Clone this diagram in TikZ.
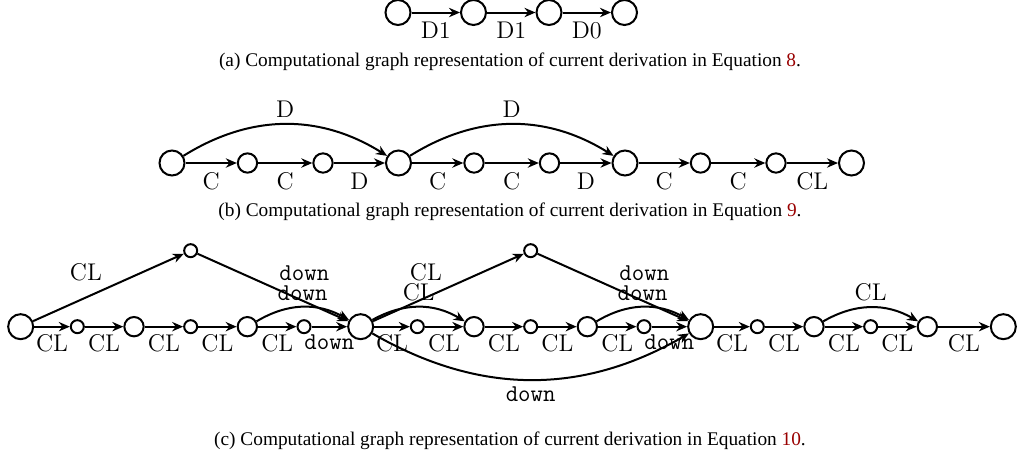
\documentclass[tikz,border=0pt]{standalone}
\usepackage{fontspec}
\usepackage{xcolor}
\usepackage{tikz}
\usetikzlibrary{arrows.meta, positioning}
\newfontfamily\capfont{Liberation Serif}
\definecolor{linkred}{RGB}{153,0,0}
\newcommand{\subcap}[2]{{\capfont (#1) Computational graph representation of current derivation in Equation \textcolor{linkred}{#2}.}}
\newcommand{\dn}{{\ttfamily down}}

\begin{document}
\begin{tikzpicture}[x=1pt, y=-1pt, on grid,
      big/.style={circle, draw, line width=1.2pt, minimum size=15pt, inner sep=0pt},
      mid/.style={circle, draw, line width=1.2pt, minimum size=11.6pt, inner sep=0pt},
      dot/.style={circle, draw, line width=1.2pt, minimum size=7.8pt, inner sep=0pt},
      lbl/.style={font=\fontsize{14.5}{16}\selectfont},
      captext/.style={font=\fontsize{11.6}{13}\selectfont, inner sep=0pt},
      ar/.style={-{Stealth[length=6.6pt, width=5.6pt]}, line width=1.2pt}]
    \useasboundingbox (0,0) rectangle (610.8,276.6);
    % (a)
    \node[big] (a0) at (238.8,7.5) {};
    \node[big, right=45.3pt of a0] (a1) {};
    \node[big, right=45.3pt of a1] (a2) {};
    \node[big, right=45.3pt of a2] (a3) {};
    \draw[ar] (a0) -- node[lbl, below=2pt] {D1} (a1);
    \draw[ar] (a1) -- node[lbl, below=2pt] {D1} (a2);
    \draw[ar] (a2) -- node[lbl, below=2pt] {D0} (a3);
    \node[captext] (capa) at (306,36.8) {\subcap{a}{8}};
    % (b)
    \node[big] (b0) at (103.2,97.8) {};
    \node[mid, right=45.3pt of b0] (b1) {};
    \node[mid, right=45.3pt of b1] (b2) {};
    \node[big, right=45.3pt of b2] (b3) {};
    \node[mid, right=45.3pt of b3] (b4) {};
    \node[mid, right=45.3pt of b4] (b5) {};
    \node[big, right=45.3pt of b5] (b6) {};
    \node[mid, right=45.3pt of b6] (b7) {};
    \node[mid, right=45.3pt of b7] (b8) {};
    \node[big, right=45.3pt of b8] (b9) {};
    \draw[ar] (b0) -- node[lbl, below=2pt] {C} (b1);
    \draw[ar] (b1) -- node[lbl, below=2pt] {C} (b2);
    \draw[ar] (b2) -- node[lbl, below=2pt] {D} (b3);
    \draw[ar] (b3) -- node[lbl, below=2pt] {C} (b4);
    \draw[ar] (b4) -- node[lbl, below=2pt] {C} (b5);
    \draw[ar] (b5) -- node[lbl, below=2pt] {D} (b6);
    \draw[ar] (b6) -- node[lbl, below=2pt] {C} (b7);
    \draw[ar] (b7) -- node[lbl, below=2pt] {C} (b8);
    \draw[ar] (b8) -- node[lbl, below=2pt] {CL} (b9);
    \draw[ar] (b0) to[bend left=32] node[lbl, above] {D} (b3);
    \draw[ar] (b3) to[bend left=32] node[lbl, above] {D} (b6);
    \node[captext] (capb) at (306,126.8) {\subcap{b}{9}};
    % (c)
    \node[big] (c0) at (12.4,196) {};
    \node[dot, right=34pt of c0] (c1) {};
    \node[mid, right=34pt of c1] (c2) {};
    \node[dot, right=34pt of c2] (c3) {};
    \node[mid, right=34pt of c3] (c4) {};
    \node[dot, right=34pt of c4] (c5) {};
    \node[big, right=34pt of c5] (c6) {};
    \node[dot, right=34pt of c6] (c7) {};
    \node[mid, right=34pt of c7] (c8) {};
    \node[dot, right=34pt of c8] (c9) {};
    \node[mid, right=34pt of c9] (c10) {};
    \node[dot, right=34pt of c10] (c11) {};
    \node[big, right=34pt of c11] (c12) {};
    \node[dot, right=34pt of c12] (c13) {};
    \node[mid, right=34pt of c13] (c14) {};
    \node[dot, right=34pt of c14] (c15) {};
    \node[mid, right=34pt of c15] (c16) {};
    \node[big, right=45.6pt of c16] (c17) {};
    \node[dot, above=45.6pt of c3] (ta) {};
    \node[dot, above=45.6pt of c9] (tb) {};
    \draw[ar] (c0) -- node[lbl, below=1pt] {CL} (c1);
    \draw[ar] (c1) -- node[lbl, below=1pt] {CL} (c2);
    \draw[ar] (c2) -- node[lbl, below=1pt] {CL} (c3);
    \draw[ar] (c3) -- node[lbl, below=1pt] {CL} (c4);
    \draw[ar] (c4) -- node[lbl, below=1pt] {CL} (c5);
    \draw[ar] (c5) -- node[lbl, below=1pt] {\dn} (c6);
    \draw[ar] (c6) -- node[lbl, below=1pt] {CL} (c7);
    \draw[ar] (c7) -- node[lbl, below=1pt] {CL} (c8);
    \draw[ar] (c8) -- node[lbl, below=1pt] {CL} (c9);
    \draw[ar] (c9) -- node[lbl, below=1pt] {CL} (c10);
    \draw[ar] (c10) -- node[lbl, below=1pt] {CL} (c11);
    \draw[ar] (c11) -- node[lbl, below=1pt] {\dn} (c12);
    \draw[ar] (c12) -- node[lbl, below=1pt] {CL} (c13);
    \draw[ar] (c13) -- node[lbl, below=1pt] {CL} (c14);
    \draw[ar] (c14) -- node[lbl, below=1pt] {CL} (c15);
    \draw[ar] (c15) -- node[lbl, below=1pt] {CL} (c16);
    \draw[ar] (c16) -- node[lbl, below=1pt] {CL} (c17);
    \draw[ar] (c0) -- node[lbl, above left] {CL} (ta);
    \draw[ar] (ta) -- node[lbl, above right] {\dn} (c6);
    \draw[ar] (c6) -- node[lbl, above left] {CL} (tb);
    \draw[ar] (tb) -- node[lbl, above right] {\dn} (c12);
    \draw[ar] (c4) to[bend left=30] node[lbl, above] {\dn} (c6);
    \draw[ar] (c6) to[bend left=30] node[lbl, above] {CL} (c8);
    \draw[ar] (c10) to[bend left=30] node[lbl, above] {\dn} (c12);
    \draw[ar] (c14) to[bend left=30] node[lbl, above] {CL} (c16);
    \draw[ar] (c6) to[bend right=30] node[lbl, below] {\dn} (c12);
    \node[captext] (capc) at (306,264.6) {\subcap{c}{10}};
  \end{tikzpicture}
\end{document}
